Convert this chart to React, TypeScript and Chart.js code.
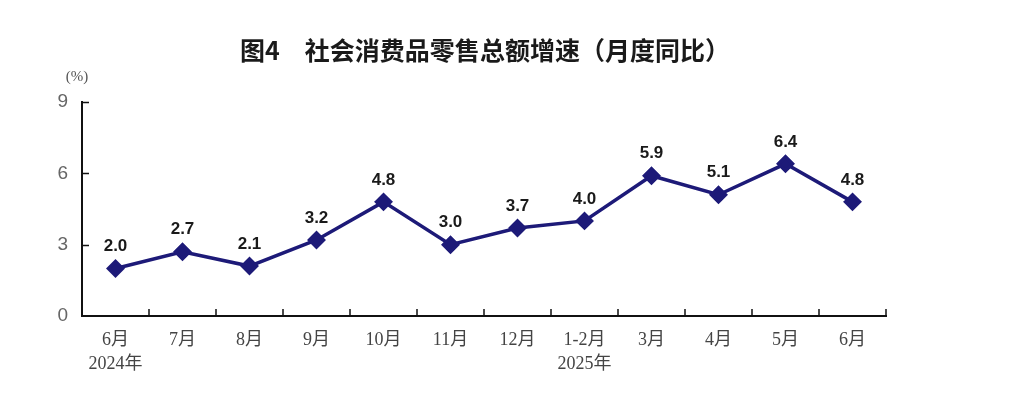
import React, { useEffect, useRef } from "react";
import { Chart, registerables } from "chart.js";

Chart.register(...registerables);

const TITLE = "图4\u3000社会消费品零售总额增速（月度同比）";
const UNIT = "(%)";
const CATEGORIES: (string | string[])[] = [
  ["6月", "2024年"], "7月", "8月", "9月", "10月", "11月", "12月",
  ["1-2月", "2025年"], "3月", "4月", "5月", "6月",
];
const VALUES = [2.0, 2.7, 2.1, 3.2, 4.8, 3.0, 3.7, 4.0, 5.9, 5.1, 6.4, 4.8];
const Y_MIN = 0;
const Y_MAX = 9;
const Y_STEP = 3;

const LINE_COLOR = "#1d1a78";
const SERIF = "'Liberation Serif', 'DejaVu Serif', 'Noto Sans CJK SC', serif";

const extrasPlugin = {
  id: "extras",
  afterDraw(chart: any) {
    const ctx = chart.ctx;
    const area = chart.chartArea;
    const ys = chart.scales.y;
    ctx.save();
    // title
    ctx.fillStyle = "#1a1a1a";
    ctx.font = "bold 25px 'Noto Sans CJK SC', sans-serif";
    ctx.textAlign = "center";
    ctx.textBaseline = "middle";
    ctx.fillText(TITLE, 485, 50);
    // unit
    ctx.fillStyle = "#555";
    ctx.font = "15px " + SERIF;
    ctx.fillText(UNIT, 77, 77);
    // inward ticks
    ctx.strokeStyle = "#111";
    ctx.lineWidth = 1.5;
    ctx.beginPath();
    for (let v = Y_MIN + Y_STEP; v <= Y_MAX; v += Y_STEP) {
      const y = Math.round(ys.getPixelForValue(v)) + 0.5;
      ctx.moveTo(area.left, y);
      ctx.lineTo(area.left + 7, y);
    }
    const n = CATEGORIES.length;
    const w = (area.right - area.left) / n;
    for (let i = 1; i <= n; i++) {
      const x = Math.round(area.left + w * i);
      ctx.moveTo(x, area.bottom);
      ctx.lineTo(x, area.bottom - 7);
    }
    ctx.stroke();
    // data labels
    const meta = chart.getDatasetMeta(0);
    ctx.fillStyle = "#1a1a1a";
    ctx.font = "bold 17px 'Liberation Sans', Arial, sans-serif";
    ctx.textAlign = "center";
    ctx.textBaseline = "middle";
    meta.data.forEach((pt: any, i: number) => {
      ctx.fillText(VALUES[i].toFixed(1), pt.x, pt.y - 22);
    });
    ctx.restore();
  },
};

export default function App() {
  const ref = useRef<HTMLCanvasElement>(null);
  useEffect(() => {
    if (!ref.current) return;
    const chart = new Chart(ref.current, {
      type: "line",
      data: {
        labels: CATEGORIES,
        datasets: [
          {
            data: VALUES,
            borderColor: LINE_COLOR,
            backgroundColor: LINE_COLOR,
            borderWidth: 3.5,
            pointStyle: "rectRot",
            pointRadius: 7,
            pointHoverRadius: 7,
            pointBackgroundColor: LINE_COLOR,
            pointBorderColor: LINE_COLOR,
            tension: 0,
          },
        ],
      },
      options: {
        animation: false,
        responsive: true,
        maintainAspectRatio: false,
        layout: { padding: { left: 0, right: 130, top: 102, bottom: 0 } },
        plugins: {
          legend: { display: false },
          tooltip: { enabled: false },
          title: { display: false },
        },
        scales: {
          x: {
            offset: true,
            grid: { display: false, drawTicks: false },
            border: { display: true, color: "#111", width: 2 },
            ticks: {
              color: "#444",
              font: { family: SERIF, size: 18, lineHeight: 1.35 },
              padding: 12,
              maxRotation: 0,
              autoSkip: false,
            },
            afterFit: (s: any) => {
              s.height = 82;
            },
          },
          y: {
            min: Y_MIN,
            max: Y_MAX,
            grid: { display: false, drawTicks: false },
            border: { display: true, color: "#111", width: 2 },
            ticks: {
              stepSize: Y_STEP,
              color: "#666",
              font: { family: "'Liberation Sans', Arial, sans-serif", size: 19 },
              padding: 14,
            },
            afterFit: (s: any) => {
              s.width = 82;
            },
          },
        },
      },
      plugins: [extrasPlugin],
    });
    return () => chart.destroy();
  }, []);
  return (
    <div style={{ position: "fixed", left: 0, top: 0, width: 1016, height: 398, background: "#fff" }}>
      <canvas ref={ref} />
    </div>
  );
}
